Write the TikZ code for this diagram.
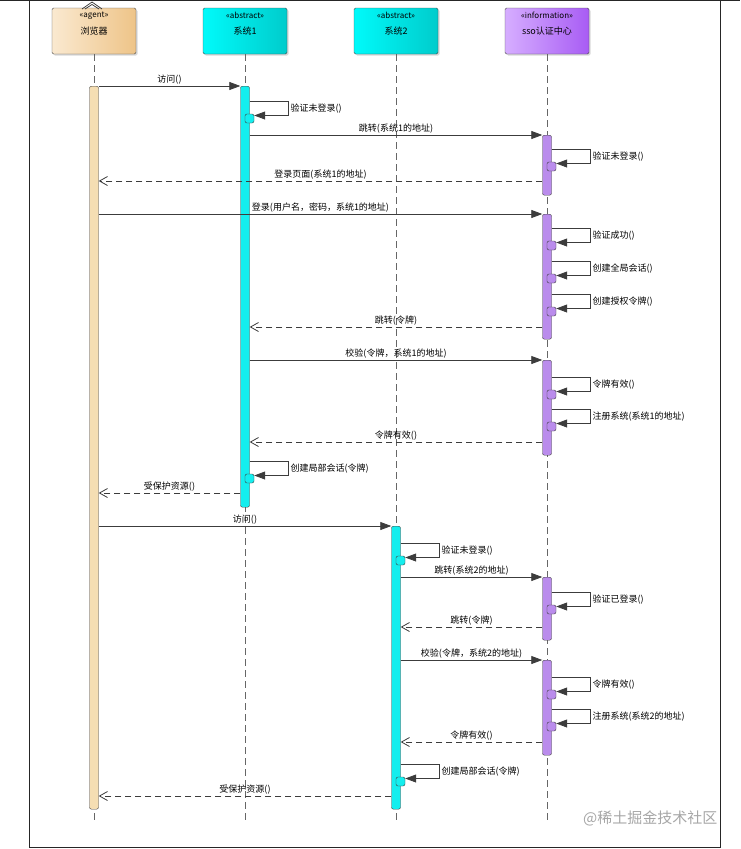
\documentclass[tikz,border=0pt]{standalone}
\usepackage{fontspec}
\newfontfamily\cjk{Noto Sans CJK SC}
\usetikzlibrary{arrows.meta,shadows}

\definecolor{agentL}{RGB}{250,233,208}
\definecolor{agentR}{RGB}{238,196,136}
\definecolor{agentBar}{RGB}{245,222,179}
\definecolor{sysL}{RGB}{0,250,250}
\definecolor{sysR}{RGB}{0,204,204}
\definecolor{sysBar}{RGB}{20,238,238}
\definecolor{ssoL}{RGB}{214,174,255}
\definecolor{ssoR}{RGB}{168,92,244}
\definecolor{ssoBar}{RGB}{186,140,236}
\definecolor{lineC}{RGB}{60,60,60}

% self message: bar, y, fill, label
\newcommand\selfcall[4]{%
  \node[selfbox,fill=#3] (#1x#2) at ([xshift=4.5pt,yshift=-17.5pt]#1.north |- 0,#2) {};
  \draw[call] (#1.east |- 0,#2) -- ++(39,0) |- ([yshift=3pt]#1x#2.east)
    node[pos=0.25,right] {#4};
}

\begin{document}
\begin{tikzpicture}[x=1pt,y=-1pt,
	every node/.style={font=\cjk\fontsize{9}{10}\selectfont,inner sep=1.5pt},
	head/.style={draw=black!70,rounded corners=1.5pt,minimum width=84pt,minimum height=46pt,
		drop shadow={shadow xshift=1.5pt,shadow yshift=-1.5pt,opacity=.3}},
	stereo/.style={font=\cjk\fontsize{8}{9}\selectfont},
	lifeline/.style={draw=black!60,line width=0.7pt,dash pattern=on 7pt off 4pt},
	bar/.style={draw=lineC,rounded corners=2pt,minimum width=9pt,inner sep=0pt,anchor=north},
	selfbox/.style={draw=lineC,rounded corners=2pt,minimum width=9pt,minimum height=9pt,inner sep=0pt},
	call/.style={draw=lineC,line width=0.8pt,-{Triangle[length=11pt,width=8pt]}},
	reply/.style={draw=lineC,line width=0.8pt,dash pattern=on 6pt off 4pt,
		-{Straight Barb[length=8pt,width=9pt]}},
	watermark/.style={font=\cjk\fontsize{15}{16}\selectfont,text=black!35}]
	\useasboundingbox (0,0) rectangle (740,849);

	% frame
	\draw[black!85,line width=1pt] (0,0.5) -- (740,0.5);
	\draw[black!85,line width=1pt] (29,0.5) rectangle (720,847);

	% heads
	\node[head,left color=agentL,right color=agentR] (browser) at (94,31) {浏览器};
	\node[stereo] (browserSt) at ([yshift=-7.5pt]browser.north) {«agent»};
	\node[head,left color=sysL,right color=sysR] (sys1) at (245,31) {系统1};
	\node[stereo] (sys1St) at ([yshift=-7.5pt]sys1.north) {«abstract»};
	\node[head,left color=sysL,right color=sysR] (sys2) at (396,31) {系统2};
	\node[stereo] (sys2St) at ([yshift=-7.5pt]sys2.north) {«abstract»};
	\node[head,left color=ssoL,right color=ssoR] (sso) at (547,31) {sso认证中心};
	\node[stereo] (ssoSt) at ([yshift=-7.5pt]sso.north) {«information»};
	\draw[black!80,line width=0.7pt] (82,9) -- (92,2) -- (102,9);
	\draw[black!80,line width=0.7pt] (85,9) -- (92,4.5) -- (99,9);

	% lifelines
	\draw[lifeline] (browser.south) -- ++(0,769);
	\draw[lifeline] (sys1.south) -- ++(0,769);
	\draw[lifeline] (sys2.south) -- ++(0,769);
	\draw[lifeline] (sso.south) -- ++(0,769);

	% activations
	\node[bar,fill=agentBar,minimum height=723pt] (bBar) at (94,86) {};
	\node[bar,fill=sysBar,minimum height=421pt] (s1Bar) at (245,86) {};
	\node[bar,fill=sysBar,minimum height=283pt] (s2Bar) at (396,526) {};
	\node[bar,fill=ssoBar,minimum height=60pt] (ssoA) at (547,135) {};
	\node[bar,fill=ssoBar,minimum height=125pt] (ssoB) at (547,214) {};
	\node[bar,fill=ssoBar,minimum height=95pt] (ssoC) at (547,360) {};
	\node[bar,fill=ssoBar,minimum height=63pt] (ssoD) at (547,577) {};
	\node[bar,fill=ssoBar,minimum height=95pt] (ssoE) at (547,660) {};

	% system 1
	\draw[call] (bBar.east |- 0,86) -- (s1Bar.west |- 0,86) node[midway,above] {访问()};
	\selfcall{s1Bar}{101}{sysBar}{验证未登录()}
	\draw[call] (s1Bar.east |- 0,135) -- (ssoA.west |- 0,135) node[midway,above] {跳转(系统1的地址)};
	\selfcall{ssoA}{149}{ssoBar}{验证未登录()}
	\draw[reply] (ssoA.west |- 0,181) -- (bBar.east |- 0,181) node[midway,above] {登录页面(系统1的地址)};
	\draw[call] (bBar.east |- 0,214) -- (ssoB.west |- 0,214) node[midway,above] {登录(用户名，密码，系统1的地址)};
	\selfcall{ssoB}{228}{ssoBar}{验证成功()}
	\selfcall{ssoB}{261}{ssoBar}{创建全局会话()}
	\selfcall{ssoB}{294}{ssoBar}{创建授权令牌()}
	\draw[reply] (ssoB.west |- 0,327) -- (s1Bar.east |- 0,327) node[midway,above] {跳转(令牌)};
	\draw[call] (s1Bar.east |- 0,360) -- (ssoC.west |- 0,360) node[midway,above] {校验(令牌，系统1的地址)};
	\selfcall{ssoC}{377}{ssoBar}{令牌有效()}
	\selfcall{ssoC}{409}{ssoBar}{注册系统(系统1的地址)}
	\draw[reply] (ssoC.west |- 0,442) -- (s1Bar.east |- 0,442) node[midway,above] {令牌有效()};
	\selfcall{s1Bar}{461}{sysBar}{创建局部会话(令牌)}
	\draw[reply] (s1Bar.west |- 0,493) -- (bBar.east |- 0,493) node[midway,above] {受保护资源()};

	% system 2
	\draw[call] (bBar.east |- 0,526) -- (s2Bar.west |- 0,526) node[midway,above] {访问()};
	\selfcall{s2Bar}{543}{sysBar}{验证未登录()}
	\draw[call] (s2Bar.east |- 0,577) -- (ssoD.west |- 0,577) node[midway,above] {跳转(系统2的地址)};
	\selfcall{ssoD}{592}{ssoBar}{验证已登录()}
	\draw[reply] (ssoD.west |- 0,627) -- (s2Bar.east |- 0,627) node[midway,above] {跳转(令牌)};
	\draw[call] (s2Bar.east |- 0,660) -- (ssoE.west |- 0,660) node[midway,above] {校验(令牌，系统2的地址)};
	\selfcall{ssoE}{677}{ssoBar}{令牌有效()}
	\selfcall{ssoE}{709}{ssoBar}{注册系统(系统2的地址)}
	\draw[reply] (ssoE.west |- 0,742) -- (s2Bar.east |- 0,742) node[midway,above] {令牌有效()};
	\selfcall{s2Bar}{764}{sysBar}{创建局部会话(令牌)}
	\draw[reply] (s2Bar.west |- 0,796) -- (bBar.east |- 0,796) node[midway,above] {受保护资源()};

	\node[watermark,anchor=east] (mark) at (719,818) {@稀土掘金技术社区};
\end{tikzpicture}
\end{document}
